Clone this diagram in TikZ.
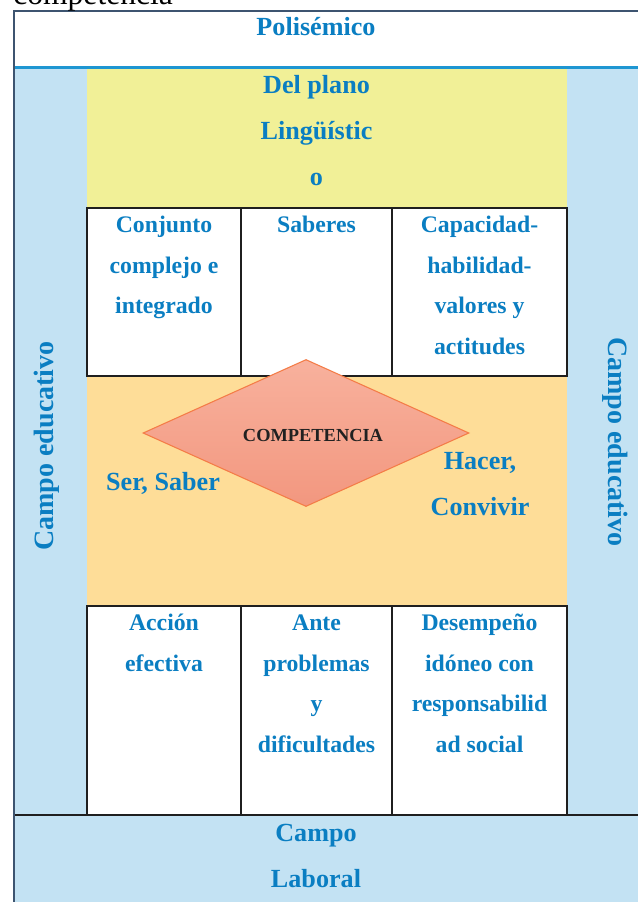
\documentclass[tikz,border=0pt]{standalone}
\usepackage{fontspec}
\setmainfont{Liberation Serif}
\usepackage{tikz}
\usetikzlibrary{shapes.geometric}
\definecolor{txtblue}{HTML}{0A7EC2}
\definecolor{frameblue}{HTML}{3D5470}
\definecolor{lineblue}{HTML}{1E96D2}
\definecolor{paleblue}{HTML}{C3E2F3}
\definecolor{paleyellow}{HTML}{F1F097}
\definecolor{paleorange}{HTML}{FEDD98}
\definecolor{salmontop}{HTML}{F8B19D}
\definecolor{salmonbot}{HTML}{F2977F}
\definecolor{diamondedge}{HTML}{F47C47}
\tikzset{
    bigtext/.style={font=\fontsize{19.6}{34.5}\selectfont\bfseries,text=txtblue,align=center,anchor=base,inner sep=0pt},
    sidetext/.style={font=\fontsize{21}{25}\selectfont\bfseries,text=txtblue,anchor=center,inner sep=0pt},
    celltext/.style={font=\fontsize{17.8}{30.5}\selectfont\bfseries,text=txtblue,align=center,anchor=base,inner sep=0pt},
    grid/.style={draw=black!88,line width=1.5pt},
    diamondbox/.style={diamond,draw=diamondedge,line width=0.8pt,top color=salmontop,bottom color=salmonbot,minimum width=244.5pt,minimum height=110.25pt,inner sep=0pt}
}

\begin{document}
\begin{tikzpicture}[x=0.75pt,y=-0.75pt]
\useasboundingbox (0,0) rectangle (638,902);
\fill[white] (0,0) rectangle (638,902);

\fill[paleblue] (14,68) rectangle (87,815);
\fill[paleblue] (567,68) rectangle (638,815);
\fill[paleblue] (14,815) rectangle (638,902);
\fill[paleyellow] (87,68) rectangle (567,208);
\fill[paleorange] (87,376) rectangle (567,606);

\draw[grid] (87,208) rectangle (567,376);
\draw[grid] (241,208) -- (241,376) (392,208) -- (392,376);
\draw[grid] (87,606) rectangle (567,815);
\draw[grid] (241,606) -- (241,815) (392,606) -- (392,815);
\draw[grid] (14,815) -- (638,815);
\draw[lineblue,line width=2.25pt] (14,68) -- (638,68);
\draw[frameblue,line width=1.5pt] (638,11) -- (14,11) -- (14,902);

\node[font=\fontsize{23.7}{28}\selectfont,anchor=base west,inner sep=0pt] (head) at (13,5) {competencia};

\node[bigtext] (poli) at (316,36) {Polisémico};
\node[bigtext] (plano) at (316.5,186) {Del plano\\Lingüístic\\o};

\node[celltext] (conj) at (164,313.8) {Conjunto\\complejo e\\integrado};
\node[celltext] (sab) at (316.5,232.5) {Saberes};
\node[celltext] (cap) at (479.5,354.5) {Capacidad-\\habilidad-\\valores y\\actitudes};

\node[diamondbox] (comp) at (306,433) {};
\node[font=\fontsize{13.8}{16}\selectfont\bfseries,text=black!87] (comptext) at (313,435) {COMPETENCIA};
\node[bigtext] (ser) at (163,490) {Ser, Saber};
\node[bigtext] (hacer) at (480,515) {Hacer,\\Convivir};

\node[celltext] (acc) at (164,671.2) {Acción\\efectiva};
\node[celltext] (ante) at (316.5,752.5) {Ante\\problemas\\y\\dificultades};
\node[celltext] (desem) at (479.5,752.5) {Desempeño\\idóneo con\\responsabilid\\ad social};

\node[bigtext] (lab) at (316,887) {Campo\\Laboral};
\node[sidetext,rotate=90] (edl) at (47,446) {Campo educativo};
\node[sidetext,rotate=-90] (edr) at (615,442) {Campo educativo};

\end{tikzpicture}
\end{document}
